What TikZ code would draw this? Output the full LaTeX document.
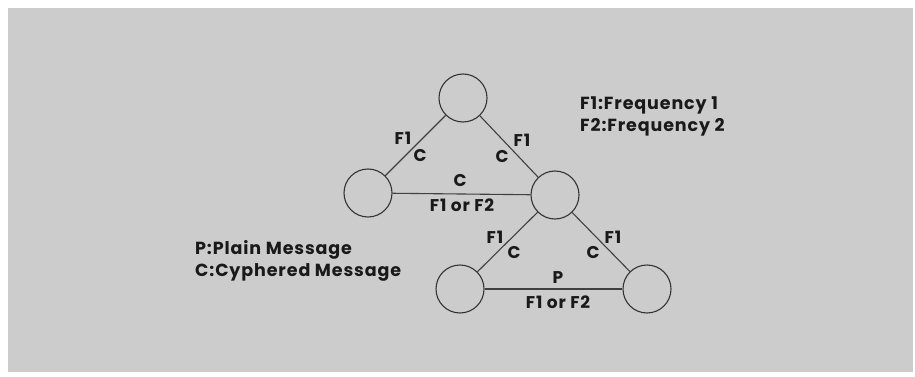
\documentclass[tikz,border=0pt]{standalone}
\usepackage{fontspec}
\setmainfont{Poppins}[LetterSpace=5]
\begin{document}
\begin{tikzpicture}[x=1pt,y=-1pt,
  station/.style={circle,draw=black!80,line width=1.1pt,minimum size=48pt,inner sep=0pt},
  link/.style={draw=black!75,line width=1.1pt},
  lbl/.style={font=\fontsize{17}{18}\selectfont\bfseries,text=black!90,inner sep=0pt},
  legend/.style={font=\fontsize{17.5}{22}\selectfont\bfseries,text=black!90,align=left,inner sep=0pt,anchor=west}]
\useasboundingbox (0,0) rectangle (915,377);
\fill[white] (0,0) rectangle (915,377);
\fill[black!20] (8,8) rectangle (913,372);
\node[station] (t) at (463,98) {};
\node[station] (l) at (368,193) {};
\node[station] (r) at (555,195) {};
\node[station] (bl) at (460,289) {};
\node[station] (br) at (647,289) {};
\draw[link] (t) -- (l);
\draw[link] (t) -- (r);
\draw[link] (l) -- (r);
\draw[link] (r) -- (bl);
\draw[link] (r) -- (br);
\draw[link] (bl) -- (br);
\node[lbl] (a1) at (403,138) {F1};
\node[lbl] (a2) at (420,156) {C};
\node[lbl] (b1) at (522,140) {F1};
\node[lbl] (b2) at (502,157) {C};
\node[lbl] (c1) at (460,181) {C};
\node[lbl] (c2) at (462,205) {F1 or F2};
\node[lbl] (d1) at (495,237) {F1};
\node[lbl] (d2) at (514,253) {C};
\node[lbl] (e1) at (613,237) {F1};
\node[lbl] (e2) at (593,253) {C};
\node[lbl] (f1) at (558,278) {P};
\node[lbl] (f2) at (558,302) {F1 or F2};
\node[legend] (k1) at (580,116) {F1:Frequency 1\\F2:Frequency 2};
\node[legend] (k2) at (195,261) {P:Plain Message\\C:Cyphered Message};
\end{tikzpicture}
\end{document}
